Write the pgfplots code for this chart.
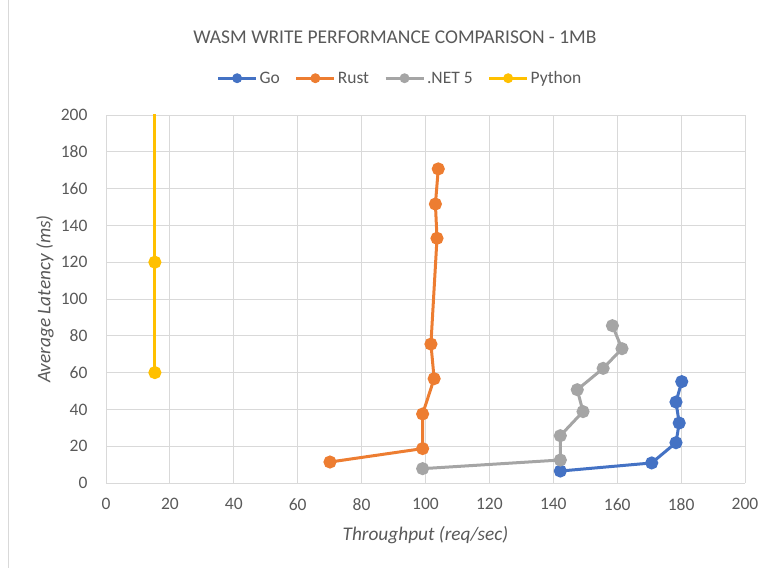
\documentclass[border=0pt]{standalone}
\usepackage{pgfplots}
\pgfplotsset{compat=1.18}
\usepackage{fontspec}
\setmainfont{Carlito}
\definecolor{cgo}{HTML}{4472C4}
\definecolor{crust}{HTML}{ED7D31}
\definecolor{cnet}{HTML}{A5A5A5}
\definecolor{cpy}{HTML}{FFC000}
\definecolor{cgrid}{HTML}{D9D9D9}
\definecolor{ctext}{HTML}{595959}
\begin{document}
\begin{tikzpicture}
\path[use as bounding box] (0,0) rectangle (772bp,568bp);
\draw[cgrid, line width=0.8bp] (8bp,0) -- (8bp,568bp);
\node[text=ctext, font=\fontsize{19.5bp}{23bp}\selectfont] at (395bp,531bp) {WASM WRITE PERFORMANCE COMPARISON - 1MB};
\begin{axis}[
  at={(106bp,85bp)}, anchor=south west,
  scale only axis, width=639bp, height=368bp,
  xmin=0, xmax=200, ymin=0, ymax=200,
  xtick={0,20,...,200}, ytick={0,20,...,200},
  grid=major,
  grid style={cgrid, line width=0.9bp},
  axis line style={cgrid, line width=0.9bp},
  axis x line*=bottom, axis y line*=left,
  tick style={draw=none},
  ticklabel style={text=ctext, font=\fontsize{17.5bp}{21bp}\selectfont},
  xticklabel style={yshift=-12bp},
  yticklabel style={xshift=-15bp},
  /pgf/number format/assume math mode=true,
  xlabel={\textit{Throughput (req/sec)}},
  ylabel={\textit{Average Latency (ms)}},
  label style={text=ctext, font=\fontsize{19.3bp}{23bp}\selectfont},
  xlabel style={at={(axis description cs:0.5,-0.141)}, anchor=center},
  ylabel style={at={(axis description cs:-0.0955,0.5)}, anchor=center},
  clip=true,
  legend style={at={(0.46,1.07)}, anchor=south, legend columns=-1, draw=none, fill=none,
    font=\fontsize{17.5bp}{21bp}\selectfont, text=ctext,
    /tikz/every even column/.append style={column sep=13bp}},
  legend image code/.code={\draw[#1, line width=3bp] (0bp,0bp) -- (38bp,0bp); \fill[#1, draw=none] (19bp,0bp) circle (5bp);},
]
\addplot[cgo, line width=3bp, mark=*, mark size=5bp, mark options={solid, draw=none, fill=cgo}] coordinates {
(142.2,6.5) (170.8,10.9) (178.4,21.9) (179.4,32.6) (178.4,44) (180.2,55.1)};
\addlegendentry{Go}
\addplot[crust, line width=3bp, mark=*, mark size=5bp, mark options={solid, draw=none, fill=crust}] coordinates {
(70.1,11.4) (99.1,18.7) (99.1,37.5) (102.7,56.7) (101.7,75.5) (103.6,133) (103.1,151.6) (104.0,170.7)};
\addlegendentry{Rust}
\addplot[cnet, line width=3bp, mark=*, mark size=5bp, mark options={solid, draw=none, fill=cnet}] coordinates {
(99.1,7.8) (142.2,12.5) (142.2,25.7) (149.3,38.8) (147.5,50.7) (155.6,62.3) (161.5,73) (158.5,85.5)};
\addlegendentry{.NET 5}
\addplot[cpy, line width=3bp, mark=*, mark size=5bp, mark options={solid, draw=none, fill=cpy}] coordinates {
(15.3,60) (15.3,120) (15.3,240)};
\addlegendentry{Python}
\end{axis}
\end{tikzpicture}
\end{document}
